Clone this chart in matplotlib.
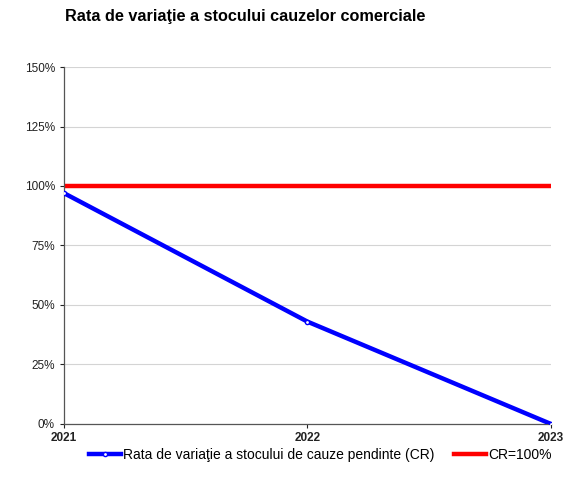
import matplotlib.pyplot as plt
from matplotlib.ticker import PercentFormatter

plt.rcParams['font.family'] = ['Liberation Sans', 'DejaVu Sans']

years = ['2021', '2022', '2023']
cr_values = [97, 43, 0]
ref_values = [100, 100, 100]

fig = plt.figure(figsize=(5.79, 4.96), dpi=100)
ax = fig.add_axes([0.1105, 0.1452, 0.8411, 0.7197])

x = list(range(len(years)))
ax.plot(x, cr_values, color='#0000ff', linewidth=3.2, marker='o', markersize=3,
        markerfacecolor='white', markeredgecolor='#0000ff', markeredgewidth=1,
        label='Rata de variaţie a stocului de cauze pendinte (CR)', zorder=3)
ax.plot(x, ref_values, color='#ff0000', linewidth=3.2, label='CR=100%', zorder=2)

ax.set_xlim(0, 2)
ax.set_ylim(0, 150)
ax.set_yticks([0, 25, 50, 75, 100, 125, 150])
ax.yaxis.set_major_formatter(PercentFormatter(decimals=0))
ax.set_xticks(x)
ax.set_xticklabels(years, fontweight='bold')
ax.tick_params(axis='both', labelsize=8.5, colors='#222222', length=3, width=0.8)
ax.tick_params(axis='x', pad=3)
ax.grid(axis='y', color='#d4d4d4', linewidth=0.8)
ax.set_axisbelow(True)
for side in ['top', 'right']:
    ax.spines[side].set_visible(False)
for side in ['left', 'bottom']:
    ax.spines[side].set_color('#555555')
    ax.spines[side].set_linewidth(0.9)

fig.text(0.112, 0.967, 'Rata de variaţie a stocului cauzelor comerciale',
         fontsize=11.7, fontweight='bold', va='center', ha='left')

fig.legend(loc='center', bbox_to_anchor=(0.553, 0.082), ncol=2, frameon=False,
           fontsize=10, handlelength=2.3, handletextpad=0.15, columnspacing=1.4)

fig.savefig('out.png', dpi=100)
